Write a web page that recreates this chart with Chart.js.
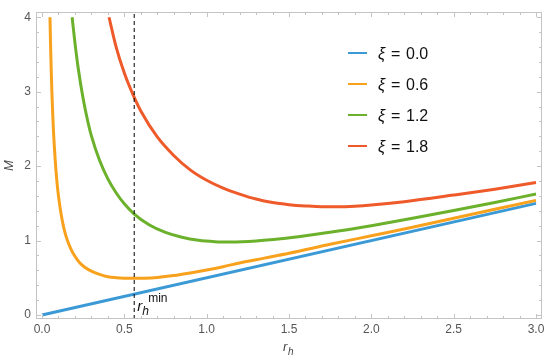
<!DOCTYPE html>
<html><head><meta charset="utf-8">
<script src="https://cdn.jsdelivr.net/npm/chart.js@4.4.1/dist/chart.umd.min.js"></script>
<style>html,body{margin:0;padding:0;background:#fff}</style>
</head><body>
<canvas id="c" width="550" height="361" style="width:550px;height:361px;display:block"></canvas>
<script>
// ---- data ----
const xiLabels = ['0.0', '0.6', '1.2', '1.8'];

const rXi00 = [0, 3.0];
const mXi00 = [0, 1.5];

const rXi06 = [0.0485, 0.052, 0.056, 0.06, 0.065, 0.07, 0.08, 0.09, 0.10, 0.115, 0.13, 0.15, 0.175, 0.20, 0.23, 0.26, 0.30, 0.35, 0.40, 0.45, 0.50, 0.56, 0.62, 0.70, 0.80, 0.90, 1.0, 1.1, 1.2, 1.35, 1.5, 1.75, 2.0, 2.25, 2.5, 2.75, 3.0];
const mXi06 = [4.0, 3.63, 3.29, 3.0, 2.71, 2.46, 2.09, 1.81, 1.60, 1.37, 1.195, 1.03, 0.89, 0.79, 0.70, 0.643, 0.589, 0.546, 0.515, 0.502, 0.495, 0.493, 0.495, 0.505, 0.53, 0.565, 0.605, 0.65, 0.70, 0.765, 0.83, 0.95, 1.065, 1.18, 1.30, 1.42, 1.54];

const rXi12 = [0.183, 0.20, 0.22, 0.25, 0.28, 0.30, 0.35, 0.40, 0.45, 0.50, 0.56, 0.65, 0.75, 0.85, 0.95, 1.05, 1.15, 1.3, 1.45, 1.6, 1.8, 2.0, 2.25, 2.5, 2.75, 3.0];
const mXi12 = [4.0, 3.66, 3.315, 2.905, 2.583, 2.407, 2.075, 1.83, 1.643, 1.494, 1.357, 1.214, 1.11, 1.044, 1.004, 0.986, 0.982, 0.996, 1.026, 1.066, 1.128, 1.2, 1.299, 1.404, 1.513, 1.625];

const rXi18 = [0.407, 0.45, 0.50, 0.56, 0.60, 0.70, 0.80, 0.90, 1.0, 1.1, 1.2, 1.3, 1.4, 1.5, 1.6, 1.7, 1.8, 1.9, 2.0, 2.2, 2.5, 2.75, 3.0];
const mXi18 = [4.0, 3.603, 3.25, 2.923, 2.742, 2.393, 2.144, 1.95, 1.81, 1.705, 1.625, 1.558, 1.511, 1.483, 1.466, 1.456, 1.456, 1.463, 1.478, 1.523, 1.612, 1.691, 1.78];

const rhMin = 0.56;

const xTickValues = [0, 0.5, 1, 1.5, 2, 2.5, 3];
const xTickLabels = ['0.0', '0.5', '1.0', '1.5', '2.0', '2.5', '3.0'];
const yTickValues = [0, 1, 2, 3, 4];
const yTickLabels = ['0', '1', '2', '3', '4'];

// ---- styling ----
const X_MIN = -0.0364, X_MAX = 3.0364, Y_MIN = -0.053, Y_MAX = 4.068;
const COLORS = ['#3b9ad6', '#f8a11c', '#6cb12b', '#ef5a2a'];
const FONT = '"Liberation Sans", Arial, sans-serif';

const pts = (xs, ys) => xs.map((x, i) => ({x: x, y: ys[i]}));
const curve = (xs, ys, i) => ({
  label: 'ξ = ' + xiLabels[i],
  data: pts(xs, ys),
  borderColor: COLORS[i],
  borderWidth: 3,
  pointRadius: 0,
  showLine: true,
  fill: false,
  cubicInterpolationMode: 'monotone',
  borderCapStyle: 'butt'
});

const datasets = [
  {
    label: 'rmin',
    data: [{x: rhMin, y: Y_MIN}, {x: rhMin, y: Y_MAX}],
    borderColor: '#000',
    borderWidth: 1,
    borderDash: [4, 3],
    pointRadius: 0,
    showLine: true,
    fill: false
  },
  curve(rXi18, mXi18, 3),
  curve(rXi12, mXi12, 2),
  curve(rXi06, mXi06, 1),
  curve(rXi00, mXi00, 0)
];

const framePlugin = {
  id: 'frame',
  afterDraw(chart) {
    const {ctx, chartArea: a, scales: {x, y}} = chart;
    ctx.save();
    ctx.strokeStyle = '#c4c4c4';
    ctx.lineWidth = 1;
    const L = Math.round(a.left) + 0.5, R = Math.round(a.right) - 0.5;
    const T = Math.round(a.top) + 0.5, B = Math.round(a.bottom) - 0.5;
    ctx.strokeRect(L, T, R - L, B - T);
    ctx.beginPath();
    for (let i = 0; i < xTickValues.length - 1; i++) {
      const v0 = xTickValues[i], v1 = xTickValues[i + 1];
      for (let k = 0; k < 5; k++) {
        const v = v0 + (v1 - v0) * k / 5;
        const len = k === 0 ? 4.5 : 2.5;
        const px = Math.round(x.getPixelForValue(v)) + 0.5;
        ctx.moveTo(px, B); ctx.lineTo(px, B - len);
        ctx.moveTo(px, T); ctx.lineTo(px, T + len);
      }
    }
    {
      const px = Math.round(x.getPixelForValue(xTickValues[xTickValues.length - 1])) + 0.5;
      ctx.moveTo(px, B); ctx.lineTo(px, B - 4.5);
      ctx.moveTo(px, T); ctx.lineTo(px, T + 4.5);
    }
    for (let i = 0; i < yTickValues.length - 1; i++) {
      const v0 = yTickValues[i], v1 = yTickValues[i + 1];
      for (let k = 0; k < 5; k++) {
        const v = v0 + (v1 - v0) * k / 5;
        const len = k === 0 ? 4.5 : 2.5;
        const py = Math.round(y.getPixelForValue(v)) + 0.5;
        ctx.moveTo(L, py); ctx.lineTo(L + len, py);
        ctx.moveTo(R, py); ctx.lineTo(R - len, py);
      }
    }
    {
      const py = Math.round(y.getPixelForValue(yTickValues[yTickValues.length - 1])) + 0.5;
      ctx.moveTo(L, py); ctx.lineTo(L + 4.5, py);
      ctx.moveTo(R, py); ctx.lineTo(R - 4.5, py);
    }
    ctx.stroke();

    // x axis title r_h
    ctx.fillStyle = '#444';
    ctx.textBaseline = 'alphabetic';
    ctx.textAlign = 'left';
    ctx.font = 'italic 13px ' + FONT;
    ctx.fillText('r', 283, 351);
    ctx.font = 'italic 10px ' + FONT;
    ctx.fillText('h', 288, 355);

    // annotation r_h^min
    const ax = x.getPixelForValue(rhMin);
    ctx.fillStyle = '#111';
    ctx.font = 'italic 15px ' + FONT;
    ctx.fillText('r', ax + 3, 311);
    ctx.font = 'italic 12px ' + FONT;
    ctx.fillText('h', ax + 8, 315);
    ctx.font = '12px ' + FONT;
    ctx.fillText('min', ax + 14, 302);

    // legend
    const rows = [59, 90, 121, 152];
    for (let i = 0; i < xiLabels.length; i++) {
      const yy = rows[i];
      ctx.strokeStyle = COLORS[i];
      ctx.lineWidth = 2;
      ctx.beginPath();
      ctx.moveTo(348, yy - 6);
      ctx.lineTo(367, yy - 6);
      ctx.stroke();
      ctx.fillStyle = '#111';
      ctx.font = 'italic 16px ' + FONT;
      ctx.fillText('ξ', 378, yy);
      ctx.font = '16px ' + FONT;
      ctx.fillText('=', 391, yy);
      ctx.fillText(xiLabels[i], 406, yy);
    }
    ctx.restore();
  }
};

new Chart(document.getElementById('c'), {
  type: 'scatter',
  data: {datasets: datasets},
  options: {
    responsive: false,
    animation: false,
    devicePixelRatio: 1,
    layout: {padding: {top: 6, right: 8, left: 0, bottom: 0}},
    plugins: {legend: {display: false}, tooltip: {enabled: false}},
    scales: {
      x: {
        type: 'linear',
        min: X_MIN, max: X_MAX,
        grid: {display: false, drawTicks: false},
        border: {display: false},
        afterBuildTicks: s => { s.ticks = xTickValues.map(v => ({value: v})); },
        afterFit: s => { s.height = 42; },
        ticks: {
          autoSkip: false, maxRotation: 0, padding: 3,
          color: '#555', font: {size: 12, family: FONT},
          callback: (v, i) => xTickLabels[i]
        }
      },
      y: {
        type: 'linear',
        min: Y_MIN, max: Y_MAX,
        grid: {display: false, drawTicks: false},
        border: {display: false},
        afterBuildTicks: s => { s.ticks = yTickValues.map(v => ({value: v})); },
        afterFit: s => { s.width = 36; },
        title: {display: true, text: 'M', color: '#444', padding: {top: 2, bottom: 0}, font: {size: 13, style: 'italic', family: FONT}},
        ticks: {
          autoSkip: false, padding: 5,
          color: '#555', font: {size: 12, family: FONT},
          callback: (v, i) => yTickLabels[i]
        }
      }
    }
  },
  plugins: [framePlugin]
});
</script>
</body></html>
